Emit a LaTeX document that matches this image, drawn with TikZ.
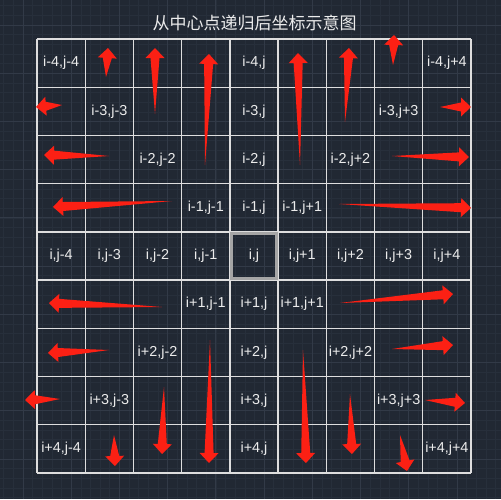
\documentclass[tikz,border=0pt]{standalone}
\usepackage{fontspec}
\setmainfont{Liberation Sans}
\newfontfamily\cjk{Noto Sans CJK SC}
\usetikzlibrary{calc}
\definecolor{bgc}{RGB}{33,40,51}
\definecolor{minorc}{RGB}{39,47,59}
\definecolor{majorc}{RGB}{50,58,71}
\definecolor{gridc}{RGB}{222,222,222}
\definecolor{centc}{RGB}{165,165,165}
\definecolor{txtc}{RGB}{236,236,236}
\definecolor{redc}{RGB}{252,32,20}
\tikzset{
  minorline/.style={draw=minorc,line width=0.6pt},
  majorline/.style={draw=majorc,line width=0.9pt},
  gridline/.style={draw=gridc,line width=1.4pt},
  centbox/.style={draw=centc,line width=3.4pt},
  celltext/.style={text=txtc,font=\fontsize{14.4}{16}\selectfont,inner sep=0pt},
  titletext/.style={text=txtc,font=\cjk\fontsize{17}{19}\selectfont,inner sep=0pt},
  redfill/.style={fill=redc}
}
\newcommand\fatarrow[2]{%
  \coordinate (fb) at ($(#2)!10pt!(#1)$);
  \coordinate (fb1) at ($(fb)!9.5pt!90:(#2)$);
  \coordinate (fb2) at ($(fb)!9.5pt!-90:(#2)$);
  \coordinate (fs1) at ($(fb)!4.5pt!90:(#2)$);
  \coordinate (fs2) at ($(fb)!4.5pt!-90:(#2)$);
  \fill[redfill] (#2) -- (fb1) -- (fs1) -- (#1) -- (fs2) -- (fb2) -- cycle;}
\begin{document}
\begin{tikzpicture}[x=1pt,y=-1pt]
\fill[bgc] (0,0) rectangle (501,499);
\useasboundingbox (0,0) rectangle (501,499);
% background CAD grid
\foreach \k in {-3,...,49} {
  \draw[minorline] ({23+\k*9.644},0) -- ({23+\k*9.644},499);
  \draw[minorline] (0,{25+\k*9.644}) -- (501,{25+\k*9.644});
}
\foreach \k in {0,...,10} {
  \draw[majorline] ({23+\k*48.22},0) -- ({23+\k*48.22},499);
  \draw[majorline] (0,{25+\k*48.22}) -- (501,{25+\k*48.22});
}
% title
\node[titletext] (title) at (254.5,23) {从中心点递归后坐标示意图};
% table grid
\foreach \k in {0,...,9} {
  \draw[gridline] ({37+\k*48.22},39) -- ({37+\k*48.22},473);
  \draw[gridline] (37,{39+\k*48.22}) -- (471,{39+\k*48.22});
}
\draw[centbox] ({37+4*48.22+1.7},{39+4*48.22+1.7}) rectangle ({37+5*48.22-1.7},{39+5*48.22-1.7});
% cell labels
\foreach \r/\c/\t in {0/0/i-4{,}j-4,0/4/i-4{,}j,0/8/i-4{,}j+4,
  1/1/i-3{,}j-3,1/4/i-3{,}j,1/7/i-3{,}j+3,
  2/2/i-2{,}j-2,2/4/i-2{,}j,2/6/i-2{,}j+2,
  3/3/i-1{,}j-1,3/4/i-1{,}j,3/5/i-1{,}j+1,
  4/0/i{,}j-4,4/1/i{,}j-3,4/2/i{,}j-2,4/3/i{,}j-1,4/4/i{,}j,4/5/i{,}j+1,4/6/i{,}j+2,4/7/i{,}j+3,4/8/i{,}j+4,
  5/3/i+1{,}j-1,5/4/i+1{,}j,5/5/i+1{,}j+1,
  6/2/i+2{,}j-2,6/4/i+2{,}j,6/6/i+2{,}j+2,
  7/1/i+3{,}j-3,7/4/i+3{,}j,7/7/i+3{,}j+3,
  8/0/i+4{,}j-4,8/4/i+4{,}j,8/8/i+4{,}j+4} {
  \node[celltext] (cell-\r-\c) at ({37+(\c+0.5)*48.22},{39+(\r+0.5)*48.22}) {\t};
}
% arrows: tail / tip coordinates
\foreach \n/\ax/\ay/\bx/\by in {
  1/106/77/108/48, 2/155/114/155/48, 3/205/165/209/54, 4/300/165/298/53,
  5/345/122/349/48, 6/393/65/394/35, 7/440/107/471/107, 8/392/156/469/157,
  9/339/204/471/208, 10/62/105/36/107, 11/109/156/44/155, 12/172/201/53/207,
  13/162/307/49/303, 14/109/350/48/353, 15/60/399/25/400, 16/114/435/115/466,
  17/164/387/162/454, 18/210/340/209/463, 19/303/350/306/463, 20/350/394/352/454,
  21/400/435/407/471, 22/340/303/453/294, 23/392/349/453/345, 24/425/400/465/403} {
  \coordinate (tail\n) at (\ax,\ay);
  \coordinate (tip\n) at (\bx,\by);
  \fatarrow{tail\n}{tip\n}
}
\end{tikzpicture}
\end{document}
